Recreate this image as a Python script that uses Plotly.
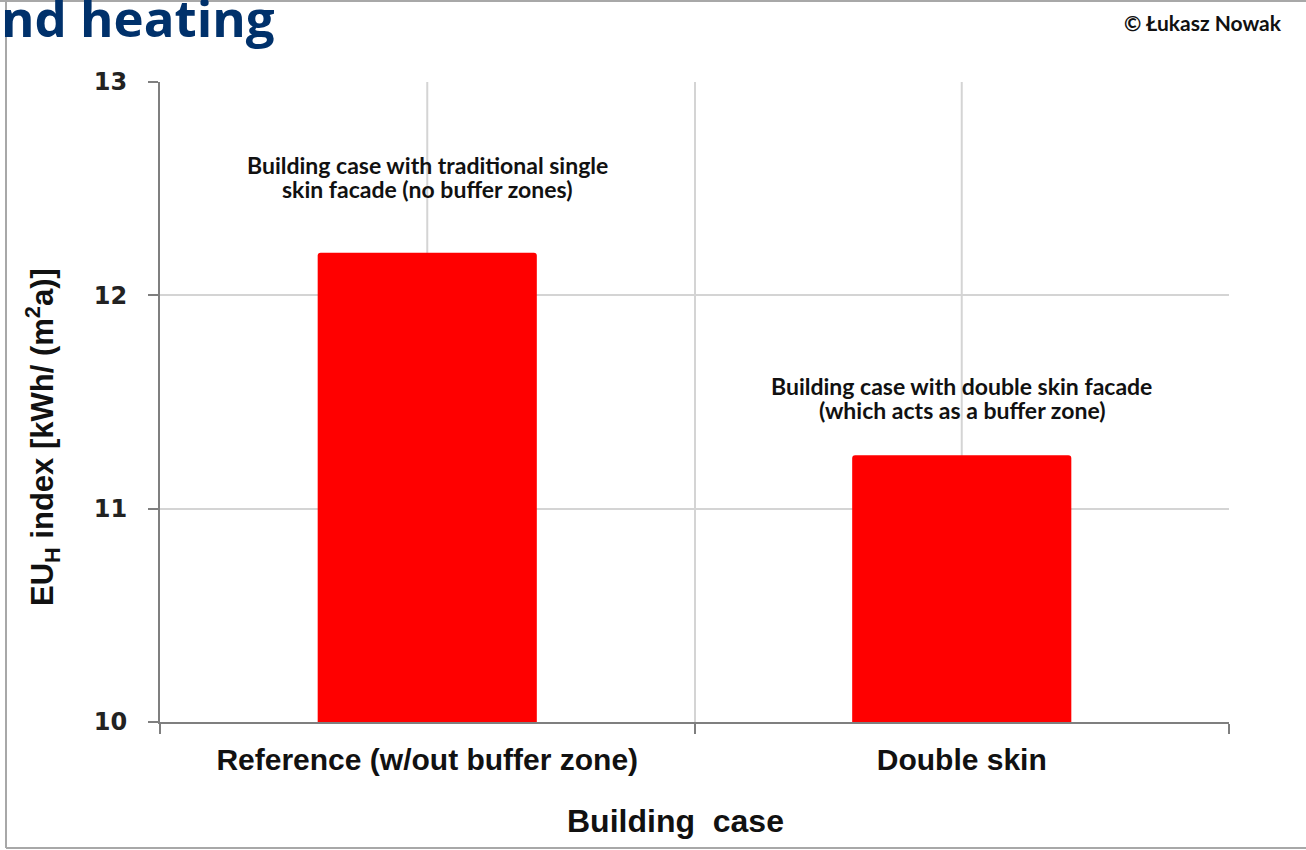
import plotly.graph_objects as go

# Categories and values
cases = ["Reference (w/out buffer zone)", "Double skin"]
eu_h = [12.2, 11.25]
notes = [
    ["Building case with traditional single", "skin facade (no buffer zones)"],
    ["Building case with double skin facade", "(which acts as a buffer zone)"],
]
y_ticks = [10, 11, 12, 13]

W, H = 1306, 850
L, R, T, B = 160, 77, 82, 128
PW, PH = W - L - R, H - T - B
NOTE_GAP = [64, 45]   # px between bar top and the last note line
LINE_STEP = 24        # px between note lines


def px_x(px):
    return (px - L) / PW


def px_y(py):
    return 1 - (py - T) / PH


fig = go.Figure()
fig.add_trace(go.Bar(
    x=cases, y=eu_h, base=0,
    marker=dict(color="#FF0000", line=dict(width=0), cornerradius=3),
    width=0.41,
    hoverinfo="x+y",
))

# vertical gridlines through the category centres
for c in cases:
    fig.add_shape(type="line", xref="x", yref="paper", x0=c, x1=c, y0=0, y1=1,
                  line=dict(color="#D4D4D4", width=2), layer="below")

# notes above bars, one annotation per line
for c, v, lines, gap in zip(cases, eu_h, notes, NOTE_GAP):
    n = len(lines)
    for i, line in enumerate(lines):
        fig.add_annotation(x=c, y=v, xref="x", yref="y", text="<b>" + line + "</b>",
                           showarrow=False, yanchor="middle", xanchor="center",
                           yshift=gap + (n - 1 - i) * LINE_STEP,
                           font=dict(family="Lato", size=23, color="#111111"))

# axis titles
fig.add_annotation(x=px_x(675), y=px_y(821), xref="paper", yref="paper",
                   xanchor="center", yanchor="middle",
                   text="<b>Building  case</b>", showarrow=False,
                   font=dict(family="Liberation Sans", size=32, color="#111111"))
fig.add_annotation(x=px_x(42), y=px_y(437), xref="paper", yref="paper",
                   xanchor="center", yanchor="middle",
                   text="<b>EU<sub>H</sub> index [kWh/ (m<sup>2</sup>a)]</b>",
                   showarrow=False, textangle=-90,
                   font=dict(family="Liberation Sans", size=31, color="#111111"))

# slide heading fragment and copyright
fig.add_annotation(x=px_x(277), y=px_y(17), xref="paper", yref="paper",
                   xanchor="right", yanchor="middle",
                   text="<b>nd heating</b>", showarrow=False,
                   font=dict(family="Open Sans", size=51, color="#00316B"))
fig.add_annotation(x=px_x(1284), y=px_y(22), xref="paper", yref="paper",
                   xanchor="right", yanchor="middle",
                   text="<b>© Łukasz Nowak</b>", showarrow=False,
                   font=dict(family="Lato", size=21, color="#111111"))

# slide frame
frame = dict(color="#A8A8A8", width=2)
fig.add_shape(type="line", xref="paper", yref="paper", x0=px_x(0), x1=px_x(W),
              y0=px_y(1), y1=px_y(1), line=frame)
fig.add_shape(type="line", xref="paper", yref="paper", x0=px_x(6), x1=px_x(6),
              y0=px_y(0), y1=px_y(848), line=frame)
fig.add_shape(type="line", xref="paper", yref="paper", x0=px_x(6), x1=px_x(W),
              y0=px_y(848), y1=px_y(848), line=frame)

fig.update_layout(
    width=W, height=H,
    margin=dict(l=L, r=R, t=T, b=B),
    paper_bgcolor="white", plot_bgcolor="white",
    showlegend=False,
    bargap=0.59,
)
fig.update_xaxes(
    type="category", range=[-0.5, 1.5],
    tickson="boundaries", ticks="outside", ticklen=10, tickwidth=2, tickcolor="#7F7F7F",
    showline=True, linecolor="#7F7F7F", linewidth=2,
    showgrid=True, gridcolor="#D4D4D4", gridwidth=2,
    tickfont=dict(family="Liberation Sans", size=30, color="#111111", weight="bold"),
    ticklabelstandoff=10,
)
fig.update_yaxes(
    range=[10, 13], tickvals=y_ticks,
    ticks="outside", ticklen=10, tickwidth=2, tickcolor="#7F7F7F",
    showline=True, linecolor="#7F7F7F", linewidth=2,
    showgrid=True, gridcolor="#D4D4D4", gridwidth=2,
    zeroline=False,
    tickfont=dict(family="DejaVu Sans", size=24, color="#222222", weight="bold"),
    ticklabelstandoff=16,
)

fig.write_html("out.html")
